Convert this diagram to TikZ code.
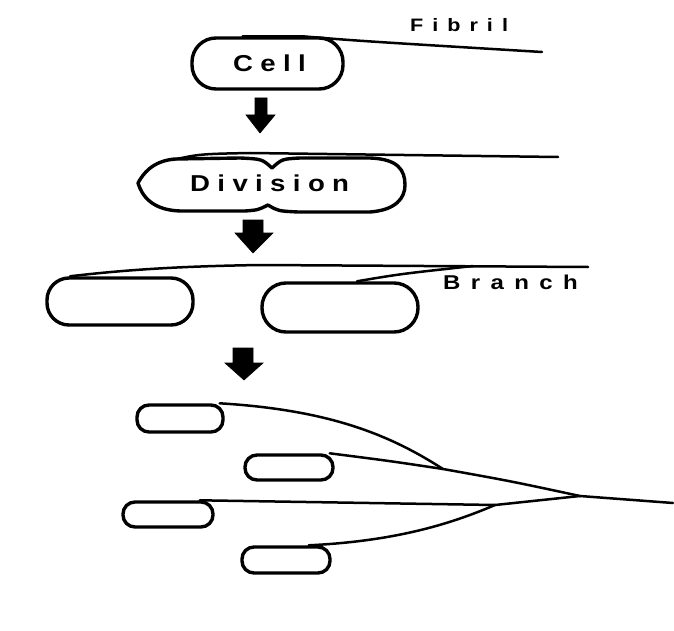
\documentclass[tikz,border=0pt]{standalone}
\usepackage{fontspec}
\setmainfont{Liberation Sans}
% widely tracked, slightly stretched label faces
\newfontfamily\trackMid[LetterSpace=32, FakeStretch=1.2]{Liberation Sans Bold}
\newfontfamily\trackWide[LetterSpace=52, FakeStretch=1.2]{Liberation Sans Bold}
\newfontfamily\trackSmall[LetterSpace=50, FakeStretch=1.2]{Liberation Sans Bold}
\usetikzlibrary{calc}

\tikzset{
  cellbox/.style={draw=black, line width=3.4pt, rectangle, inner sep=0pt},
  fibril/.style={draw=black, line width=2.5pt, line cap=round, line join=round},
  blockarrow/.style={fill=black, draw=black, line width=0.6pt, line join=miter},
  tagtext/.style={inner sep=0pt, anchor=base west, text=black},
}

\begin{document}
\begin{tikzpicture}[x=1pt, y=-1pt]
  \useasboundingbox (0,0) rectangle (674,631);

  % ---- stage 1: single cell with its fibril
  \node[cellbox, minimum width=151pt, minimum height=51pt, rounded corners=24pt]
    (cell) at (267.5,63.5) {};
  \node[tagtext, font=\trackMid\fontsize{23}{27}\selectfont] (cellTxt) at (233,72) {Cell};
  \coordinate (fibEndA) at (542,52);
  \draw[fibril] ([xshift=-25pt]cell.north) -- ([xshift=35pt]cell.north)
    .. controls (360,41) .. (fibEndA);
  \node[tagtext, font=\trackSmall\fontsize{18}{22}\selectfont] (fibTxt) at (410,32) {Fibril};

  % ---- arrow 1
  \fill[blockarrow] (255,98) -- (267,98) -- (267,115) -- (275,115) -- (260,133)
    -- (246,115) -- (255,115) -- cycle;

  % ---- stage 2: dividing cell
  \draw[line width=3.4pt, line join=round]
    (272,168) .. controls (262,159) .. (240,158) -- (175,159)
    .. controls (152,161) and (143,174) .. (138,183)
    .. controls (142,196) and (152,210) .. (180,211) -- (245,211)
    .. controls (258,210) .. (268,205)
    .. controls (278,211) .. (298,212) -- (370,212)
    .. controls (396,210) and (405,198) .. (405,185)
    .. controls (405,170) and (398,159) .. (370,158) -- (300,158)
    .. controls (282,159) .. (272,168) -- cycle;
  \node[tagtext, font=\trackMid\fontsize{23}{27}\selectfont] (divTxt) at (190,192) {Division};
  \coordinate (divStart) at (172,160);
  \coordinate (fibEndB) at (558,157);
  \draw[fibril] (divStart) .. controls (200,154) .. (250,153) -- (fibEndB);

  % ---- arrow 2
  \fill[blockarrow] (243,220) -- (263,220) -- (263,233) -- (273,233) -- (253,253)
    -- (235,233) -- (243,233) -- cycle;

  % ---- stage 3: two daughter cells sharing one fibril
  \node[cellbox, minimum width=146pt, minimum height=47pt, rounded corners=22pt]
    (left) at (120,301.5) {};
  \node[cellbox, minimum width=156pt, minimum height=49pt, rounded corners=24pt]
    (right) at (340,307.5) {};
  \coordinate (fibEndC) at (588,267);
  \coordinate (branchJoin) at (473,266);
  \draw[fibril] ([xshift=-50pt]left.north) .. controls (140,268) and (200,266) .. (260,265)
    -- (fibEndC);
  \draw[fibril] ([xshift=17pt]right.north) .. controls (400,274) .. (branchJoin);
  \node[tagtext, font=\trackWide\fontsize{20}{24}\selectfont] (branchTxt) at (443,289) {Branch};

  % ---- arrow 3
  \fill[blockarrow] (233,348) -- (253,348) -- (253,363) -- (263,363) -- (244,380)
    -- (225,363) -- (233,363) -- cycle;

  % ---- stage 4: four cells on a branching fibril
  \tikzset{small/.style={cellbox, minimum height=26pt, rounded corners=12pt}}
  \node[small, minimum width=86pt, minimum height=27pt] (a) at (180,418.5) {};
  \node[small, minimum width=88pt, minimum height=25pt] (b) at (289,467.5) {};
  \node[small, minimum width=90pt, minimum height=25pt] (c) at (168,514.5) {};
  \node[small, minimum width=88pt] (d) at (286,560) {};

  \coordinate (jab) at (443,469);
  \coordinate (jcd) at (495,505);
  \coordinate (jall) at (580,496);
  \coordinate (tail) at (673,503);

  \draw[fibril] ([xshift=-5pt]a.north east) .. controls (330,410) and (390,435) .. (jab);
  \draw[fibril] ([xshift=-5pt]b.north east) .. controls (390,461) .. (jab);
  \draw[fibril] (jab) .. controls (510,481) .. (jall);
  \draw[fibril] ([xshift=-15pt]c.north east) -- (jcd);
  \draw[fibril] ([xshift=-23pt]d.north east) .. controls (400,541) and (455,522) .. (jcd);
  \draw[fibril] (jcd) -- (jall);
  \draw[fibril] (jall) -- (tail);
\end{tikzpicture}
\end{document}
